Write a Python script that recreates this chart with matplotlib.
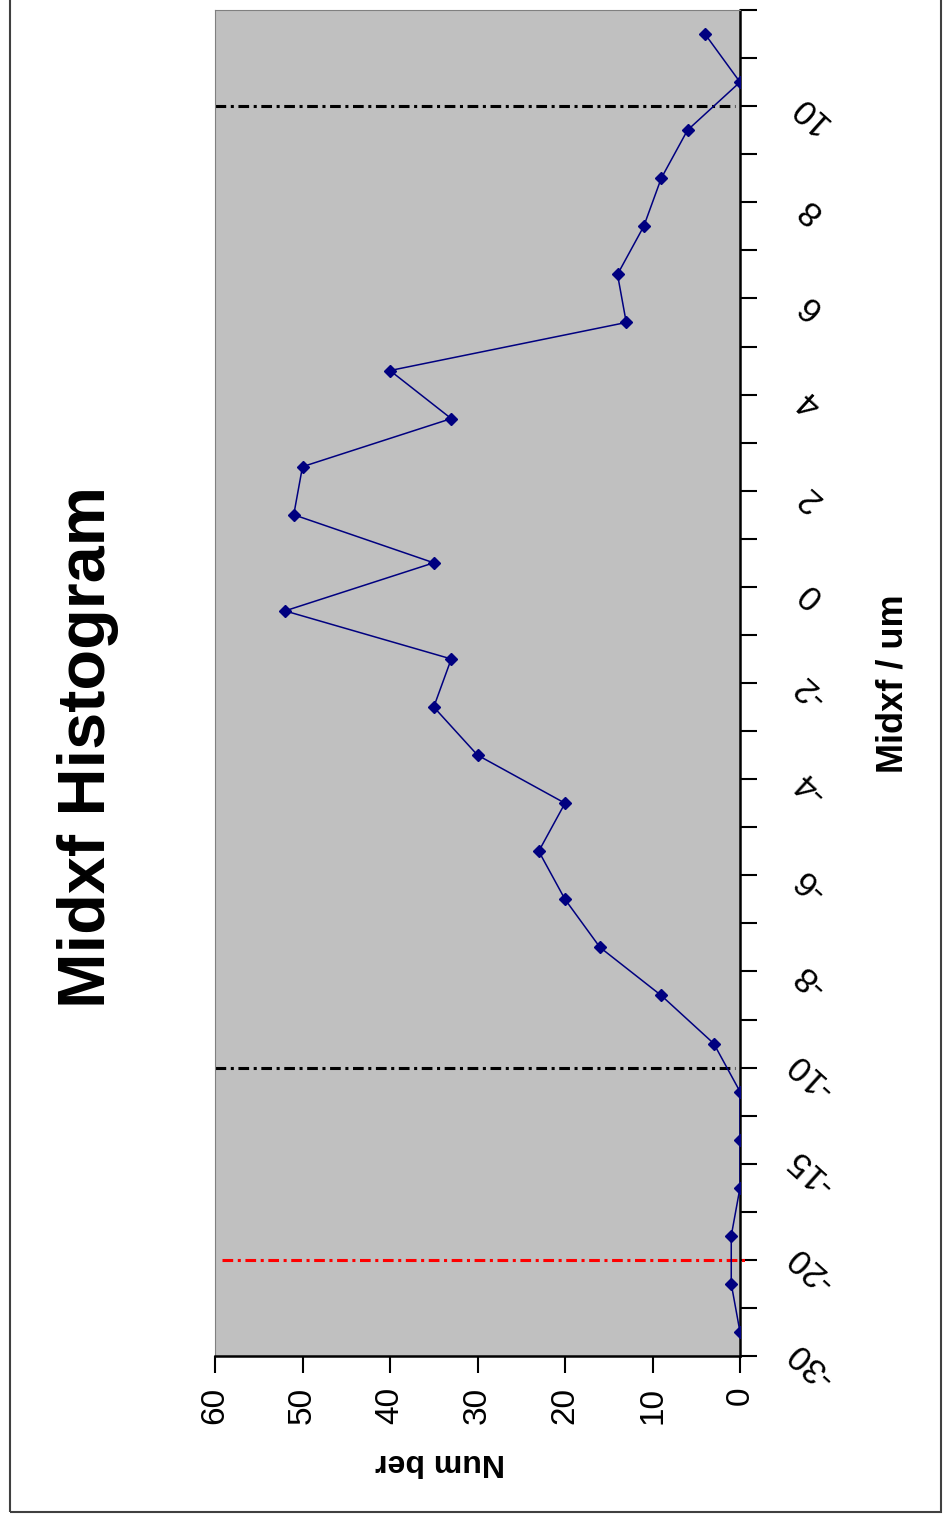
import numpy as np
import matplotlib
matplotlib.use('Agg')
import matplotlib.pyplot as plt
from matplotlib.patches import Rectangle
from matplotlib.transforms import blended_transform_factory, offset_copy

plt.rcParams['font.family'] = ['Liberation Sans', 'DejaVu Sans']

# counts per Midxf bin, first bin (-30) first
counts = [0, 1, 1, 0, 0, 0, 3, 9, 16, 20, 23, 20, 30, 35, 33, 52,
          35, 51, 50, 33, 40, 13, 14, 11, 9, 6, 0, 4]
# labels shown on every other bin edge
edge_labels = ['-30', '-20', '-15', '-10', '-8', '-6', '-4', '-2',
               '0', '2', '4', '6', '8', '10']
number_ticks = [0, 10, 20, 30, 40, 50, 60]
# cut lines on bin edges: (edge index, colour)
cut_lines = [(26, 'black'), (6, 'black'), (2, 'red')]

n_bins = len(counts)
centers = np.arange(n_bins) + 0.5

fig = plt.figure(figsize=(9.44, 15.18), dpi=100)
ax = fig.add_axes([215 / 944, 1 - 1356 / 1518, 525 / 944, 1346 / 1518])
ax.set_facecolor('#c0c0c0')

ax.plot(counts, centers, color='#000080', lw=1.1, marker='D', ms=6,
        markerfacecolor='#000080', markeredgecolor='#000080', zorder=3)

dashdot = (0, (3.5, 1.5, 1, 1.5))
for edge, col in cut_lines:
    if col == 'red':
        ax.axhline(edge, xmin=0.013, xmax=1.01, color='#ff0000', lw=2.2,
                   linestyle=dashdot, clip_on=False, zorder=2)
    else:
        ax.axhline(edge, xmin=0.0, xmax=0.99, color='black', lw=2.2,
                   linestyle=dashdot, zorder=2)

ax.set_xlim(60, 0)
ax.set_ylim(0, n_bins)

# number axis (bottom)
ax.set_xticks(number_ticks)
ax.set_xticklabels([str(v) for v in number_ticks], rotation=90, fontsize=24)
ax.tick_params(axis='x', direction='out', length=12, width=1.5, pad=10)

# category axis on the right side: tick marks on every bin edge
ax.yaxis.set_ticks_position('right')
ax.set_yticks(np.arange(0, n_bins + 1))
ax.set_yticklabels([])
ax.tick_params(axis='y', direction='out', length=12, width=1.5)

# slanted labels on every other edge, sitting a little below the edge
trans = blended_transform_factory(ax.transAxes, ax.transData)
trans = offset_copy(trans, fig=fig, x=70, y=-8, units='dots')
for edge, lab in zip(range(0, n_bins, 2), edge_labels):
    ax.text(1.0, edge, lab, transform=trans, rotation=138, fontsize=25,
            ha='center', va='center', clip_on=False)

for side in ['right', 'bottom']:
    ax.spines[side].set_linewidth(1.8)
    ax.spines[side].set_color('black')
for side in ['top', 'left']:
    ax.spines[side].set_linewidth(0.8)
    ax.spines[side].set_color('#808080')

fig.text(88 / 944, 1 - 747 / 1518, 'Midxf Histogram', rotation=90,
         fontsize=48, fontweight='bold', ha='center', va='center')
fig.text(893 / 944, 1 - 684 / 1518, 'Midxf / um', rotation=90,
         fontsize=26, fontweight='bold', ha='center', va='center')
fig.text(440 / 944, 1 - 1462 / 1518, 'Num ber', rotation=180,
         fontsize=23, fontweight='bold', ha='center', va='center')

fig.patches.append(Rectangle((10 / 944, 1 - 1512 / 1518),
                             931 / 944, 1512 / 1518 + 0.01,
                             transform=fig.transFigure, fill=False,
                             edgecolor='#404040', lw=1.5))

fig.savefig('out.png', dpi=100)
